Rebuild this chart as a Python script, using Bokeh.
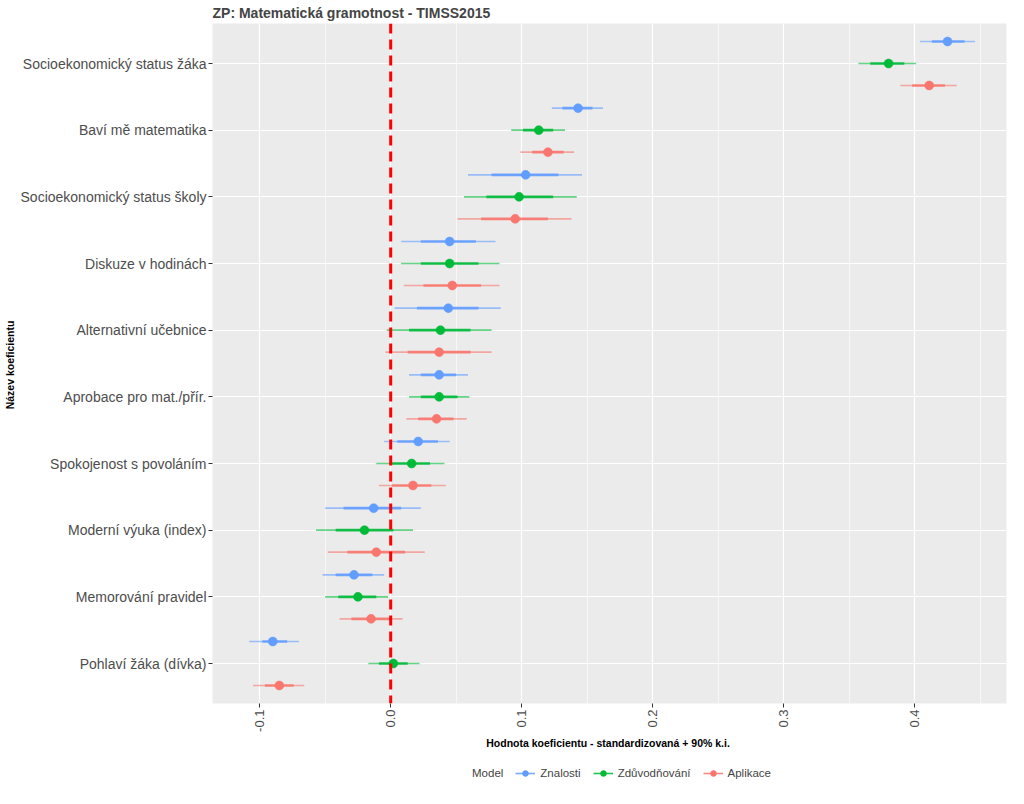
import math
from bokeh.plotting import figure
from bokeh.layouts import column
from bokeh.models import (ColumnDataSource, Range1d, FixedTicker, Span, Legend,
                          LegendItem, NumeralTickFormatter)
from bokeh.transform import dodge
from bokeh.embed import file_html
from bokeh.resources import INLINE

# ---------------- data ----------------
categories = [
    "Socioekonomický status žáka",
    "Baví mě matematika",
    "Socioekonomický status školy",
    "Diskuze v hodinách",
    "Alternativní učebnice",
    "Aprobace pro mat./přír.",
    "Spokojenost s povoláním",
    "Moderní výuka (index)",
    "Memorování pravidel",
    "Pohlaví žáka (dívka)",
]
models = ["Znalosti", "Zdůvodňování", "Aplikace"]
legend_title = "Model"

znalosti_est  = [0.425, 0.143, 0.103, 0.045, 0.044, 0.037, 0.021, -0.013, -0.028, -0.090]
znalosti_lo90 = [0.404, 0.123, 0.059, 0.008, 0.003, 0.014, -0.005, -0.050, -0.052, -0.108]
znalosti_hi90 = [0.446, 0.162, 0.146, 0.080, 0.084, 0.059, 0.045, 0.023, -0.005, -0.070]
znalosti_lo   = [0.413, 0.131, 0.077, 0.023, 0.020, 0.023, 0.005, -0.036, -0.042, -0.098]
znalosti_hi   = [0.438, 0.154, 0.128, 0.065, 0.067, 0.050, 0.036, 0.008, -0.014, -0.079]

zduvodnovani_est  = [0.380, 0.113, 0.098, 0.045, 0.038, 0.037, 0.016, -0.020, -0.025, 0.002]
zduvodnovani_lo90 = [0.357, 0.092, 0.056, 0.008, -0.003, 0.014, -0.011, -0.057, -0.050, -0.017]
zduvodnovani_hi90 = [0.401, 0.133, 0.142, 0.083, 0.077, 0.060, 0.041, 0.017, -0.002, 0.022]
zduvodnovani_lo   = [0.366, 0.101, 0.073, 0.023, 0.014, 0.023, 0.000, -0.042, -0.040, -0.009]
zduvodnovani_hi   = [0.392, 0.124, 0.124, 0.067, 0.061, 0.051, 0.030, 0.002, -0.011, 0.013]

aplikace_est  = [0.411, 0.120, 0.095, 0.047, 0.037, 0.035, 0.017, -0.011, -0.015, -0.085]
aplikace_lo90 = [0.389, 0.099, 0.051, 0.010, -0.004, 0.012, -0.009, -0.048, -0.039, -0.105]
aplikace_hi90 = [0.432, 0.140, 0.138, 0.083, 0.077, 0.058, 0.042, 0.026, 0.009, -0.066]
aplikace_lo   = [0.398, 0.108, 0.069, 0.025, 0.013, 0.021, 0.001, -0.033, -0.030, -0.096]
aplikace_hi   = [0.423, 0.132, 0.120, 0.069, 0.061, 0.048, 0.031, 0.011, 0.000, -0.074]

x_ticks = [-0.1, 0.0, 0.1, 0.2, 0.3, 0.4]
x_minor_ticks = [-0.15, -0.05, 0.05, 0.15, 0.25, 0.35, 0.45]

# ---------------- styles ----------------
colors = ["#619CFF", "#00BA38", "#F8766D"]
offsets = [0.33, 0.0, -0.33]
SANS = "Liberation Sans"

n = len(categories)
ypos = [n - i for i in range(n)]

p = figure(width=1008, height=755, output_backend="svg", toolbar_location=None,
           x_range=Range1d(-0.136, 0.470), y_range=Range1d(0.4, n + 0.6),
           min_border_left=207, min_border_right=2, min_border_top=16, min_border_bottom=52)

p.background_fill_color = "#EBEBEB"
p.border_fill_color = "white"
p.outline_line_color = None

p.title.text = "ZP: Matematická gramotnost - TIMSS2015"
p.title.text_font = SANS
p.title.text_font_size = "14px"
p.title.text_font_style = "bold"
p.title.align = "left"
p.title.standoff = 5
p.title.offset = 0

# axes
p.xaxis.ticker = FixedTicker(ticks=x_ticks, minor_ticks=x_minor_ticks)
p.xaxis.formatter = NumeralTickFormatter(format="0.0")
p.yaxis.ticker = FixedTicker(ticks=ypos)
p.yaxis.major_label_overrides = {y: c for y, c in zip(ypos, categories)}

for ax in (p.xaxis, p.yaxis):
    ax.axis_line_color = None
    ax.major_tick_line_color = "#333333"
    ax.major_tick_in = 0
    ax.major_tick_out = 4
    ax.minor_tick_line_color = None
    ax.major_label_text_color = "#4D4D4D"
    ax.major_label_text_font = SANS
    ax.axis_label_text_font = SANS
    ax.axis_label_text_font_style = "bold"
    ax.axis_label_text_font_size = "10.5px"
    ax.axis_label_text_color = "black"

p.xaxis.major_label_orientation = math.pi / 2
p.xaxis.major_label_text_font_size = "13px"
p.xaxis.major_label_standoff = 2
p.xaxis.axis_label = "Hodnota koeficientu - standardizovaná  + 90% k.i."
p.xaxis.axis_label_standoff = 2

p.yaxis.major_label_text_font_size = "14px"
p.yaxis.major_label_standoff = 2
p.yaxis.axis_label = "Název  koeficientu"
p.yaxis.axis_label_standoff = 2

p.xgrid.grid_line_color = "white"
p.xgrid.grid_line_width = 1.2
p.xgrid.minor_grid_line_color = "white"
p.xgrid.minor_grid_line_width = 0.6
p.ygrid.grid_line_color = "white"
p.ygrid.grid_line_width = 1.2

# ---------------- legend strip figure (below the chart) ----------------
pl = figure(width=1008, height=25, output_backend="svg", toolbar_location=None,
            x_axis_location=None, y_axis_location=None,
            x_range=Range1d(0, 1), y_range=Range1d(100, 101),
            min_border_left=207, min_border_right=2, min_border_top=0, min_border_bottom=0)
pl.outline_line_color = None
pl.xgrid.visible = False
pl.ygrid.visible = False
pl.background_fill_color = "white"

r_title = pl.scatter(x="x", y="y", source=ColumnDataSource(dict(x=[], y=[])), size=0,
                     fill_alpha=0, line_alpha=0)
legend_items = [LegendItem(label=legend_title, renderers=[r_title])]

# ---------------- glyphs ----------------
series = [
    (znalosti_est, znalosti_lo90, znalosti_hi90, znalosti_lo, znalosti_hi),
    (zduvodnovani_est, zduvodnovani_lo90, zduvodnovani_hi90, zduvodnovani_lo, zduvodnovani_hi),
    (aplikace_est, aplikace_lo90, aplikace_hi90, aplikace_lo, aplikace_hi),
]

for name, color, off, (est, lo90, hi90, lo, hi) in zip(models, colors, offsets, series):
    src = ColumnDataSource(dict(y=ypos, est=est, lo90=lo90, hi90=hi90, lo=lo, hi=hi))
    yd = dodge("y", off)
    p.segment(x0="lo90", x1="hi90", y0=yd, y1=yd, source=src,
              line_color=color, line_alpha=0.6, line_width=1.6)
    p.segment(x0="lo", x1="hi", y0=yd, y1=yd, source=src,
              line_color=color, line_alpha=0.85, line_width=2.6)
    p.scatter(x="est", y=yd, source=src, size=9, fill_color=color,
              line_color=color, line_width=0.5)
    # same series in the legend strip (outside its visible y range): only the legend keys show
    r_l = pl.segment(x0="lo90", x1="hi90", y0="y", y1="y", source=src,
                     line_color=color, line_alpha=0.85, line_width=1.6)
    r_p = pl.scatter(x="est", y="y", source=src, size=8, fill_color=color,
                     line_color=color)
    legend_items.append(LegendItem(label=name, renderers=[r_l, r_p]))

zero_line = Span(location=0, dimension="height", line_color="#FF0000",
                 line_dash="10 6", line_width=3)
p.add_layout(zero_line)

legend = Legend(items=legend_items, orientation="horizontal", location="bottom_center")
legend.label_text_font = SANS
legend.label_text_font_size = "11.5px"
legend.label_height = 14
legend.glyph_width = 20
legend.glyph_height = 14
legend.spacing = 12
legend.padding = 0
legend.margin = 0
legend.border_line_color = None
legend.background_fill_alpha = 0
pl.add_layout(legend)

layout = column(p, pl, spacing=0)
open("out.html", "w").write(file_html(layout, INLINE))
